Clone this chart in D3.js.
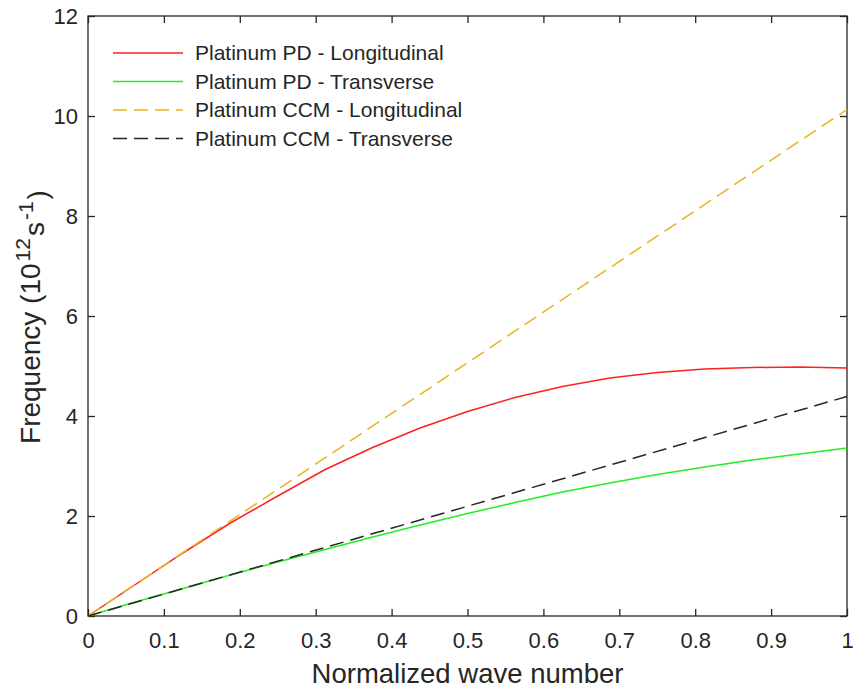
<!DOCTYPE html>
<html>
<head>
<meta charset="utf-8">
<script src="https://cdn.jsdelivr.net/npm/d3@7"></script>
<style>
  body { margin: 0; background: #fff; }
  text { font-family: "Liberation Sans", Arial, sans-serif; fill: #262626; }
</style>
</head>
<body>
<svg id="chart" width="853" height="690"></svg>
<script>
// wave number samples (1/16 steps) and the four dispersion branches
var waveNumber = [0, 0.0625, 0.125, 0.1875, 0.25, 0.3125, 0.375, 0.4375, 0.5,
                  0.5625, 0.625, 0.6875, 0.75, 0.8125, 0.875, 0.9375, 1];
var pdLongitudinal = [0, 0.63, 1.26, 1.86, 2.40, 2.93, 3.37, 3.76, 4.09,
                      4.37, 4.59, 4.76, 4.87, 4.94, 4.97, 4.98, 4.96];
var pdTransverse = [0, 0.28, 0.55, 0.82, 1.08, 1.33, 1.58, 1.82, 2.05,
                    2.27, 2.48, 2.66, 2.83, 2.98, 3.12, 3.24, 3.36];
var ccmLongitudinal = [0, 10.13];
var ccmTransverse = [0, 4.39];
var ccmWaveNumber = [0, 1];

var xTicks = [0, 0.1, 0.2, 0.3, 0.4, 0.5, 0.6, 0.7, 0.8, 0.9, 1];
var yTicks = [0, 2, 4, 6, 8, 10, 12];

var series = [
  {name: "Platinum PD - Longitudinal",  x: waveNumber,    y: pdLongitudinal,  color: "#ff2020", dash: null},
  {name: "Platinum PD - Transverse",    x: waveNumber,    y: pdTransverse,    color: "#22ee22", dash: null},
  {name: "Platinum CCM - Longitudinal", x: ccmWaveNumber, y: ccmLongitudinal, color: "#edb120", dash: "14,7"},
  {name: "Platinum CCM - Transverse",   x: ccmWaveNumber, y: ccmTransverse,   color: "#262626", dash: "14,7"}
];

var svg = d3.select("#chart");
var m = {left: 88, top: 16, right: 847, bottom: 616};

var x = d3.scaleLinear().domain([0, 1]).range([m.left, m.right]);
var y = d3.scaleLinear().domain([0, 12]).range([m.bottom, m.top]);

// box
svg.append("rect")
    .attr("x", m.left).attr("y", m.top)
    .attr("width", m.right - m.left).attr("height", m.bottom - m.top)
    .attr("fill", "none").attr("stroke", "#262626").attr("stroke-width", 1.3);

// axes, ticks pointing inward
var fmt = function(d){ return d3.format("~g")(d); };
var bottomAxis = svg.append("g").attr("transform", "translate(0," + m.bottom + ")")
    .call(d3.axisBottom(x).tickValues(xTicks).tickFormat(fmt).tickSizeInner(-7).tickSizeOuter(0).tickPadding(16));
var topAxis = svg.append("g").attr("transform", "translate(0," + m.top + ")")
    .call(d3.axisTop(x).tickValues(xTicks).tickFormat("").tickSizeInner(-7).tickSizeOuter(0));
var leftAxis = svg.append("g").attr("transform", "translate(" + m.left + ",0)")
    .call(d3.axisLeft(y).tickValues(yTicks).tickFormat(fmt).tickSizeInner(-7).tickSizeOuter(0).tickPadding(10));
var rightAxis = svg.append("g").attr("transform", "translate(" + m.right + ",0)")
    .call(d3.axisRight(y).tickValues(yTicks).tickFormat("").tickSizeInner(-7).tickSizeOuter(0));

[bottomAxis, topAxis, leftAxis, rightAxis].forEach(function(g){
  g.select(".domain").remove();
  g.selectAll("line").attr("stroke", "#262626").attr("stroke-width", 1.3);
  g.selectAll("text").style("font-size", "22px").style("font-family", "Liberation Sans, Arial, sans-serif").attr("fill", "#262626");
});

// curves
var line = d3.line()
    .x(function(d){ return x(d[0]); })
    .y(function(d){ return y(d[1]); });

svg.append("g").selectAll("path")
    .data(series)
  .enter().append("path")
    .attr("d", function(s){ return line(d3.zip(s.x, s.y)); })
    .attr("fill", "none")
    .attr("stroke", function(s){ return s.color; })
    .attr("stroke-width", 1.5)
    .attr("stroke-dasharray", function(s){ return s.dash; });

// legend
var legend = svg.append("g").selectAll("g")
    .data(series)
  .enter().append("g")
    .attr("transform", function(d, i){ return "translate(113," + (53 + i * 28.5) + ")"; });

legend.append("line")
    .attr("x1", 0).attr("x2", 70)
    .attr("stroke", function(s){ return s.color; })
    .attr("stroke-width", 1.5)
    .attr("stroke-dasharray", function(s){ return s.dash; });

legend.append("text")
    .attr("x", 82).attr("dy", "0.35em")
    .style("font-size", "21px")
    .text(function(s){ return s.name; });

// axis titles
svg.append("text")
    .attr("x", (m.left + m.right) / 2).attr("y", 683)
    .attr("text-anchor", "middle")
    .style("font-size", "27.5px")
    .text("Normalized wave number");

var yt = svg.append("text")
    .attr("transform", "translate(40,317) rotate(-90)")
    .attr("text-anchor", "middle")
    .style("font-size", "28px");
yt.append("tspan").text("Frequency (10");
yt.append("tspan").attr("dy", "-0.5em").attr("dx", "2").style("font-size", "21px").text("12");
yt.append("tspan").attr("dy", "0.5em").attr("dx", "2").text("s");
yt.append("tspan").attr("dy", "-0.5em").attr("dx", "2").style("font-size", "21px").text("-1");
yt.append("tspan").attr("dy", "0.5em").attr("dx", "2").text(")");
</script>
</body>
</html>
